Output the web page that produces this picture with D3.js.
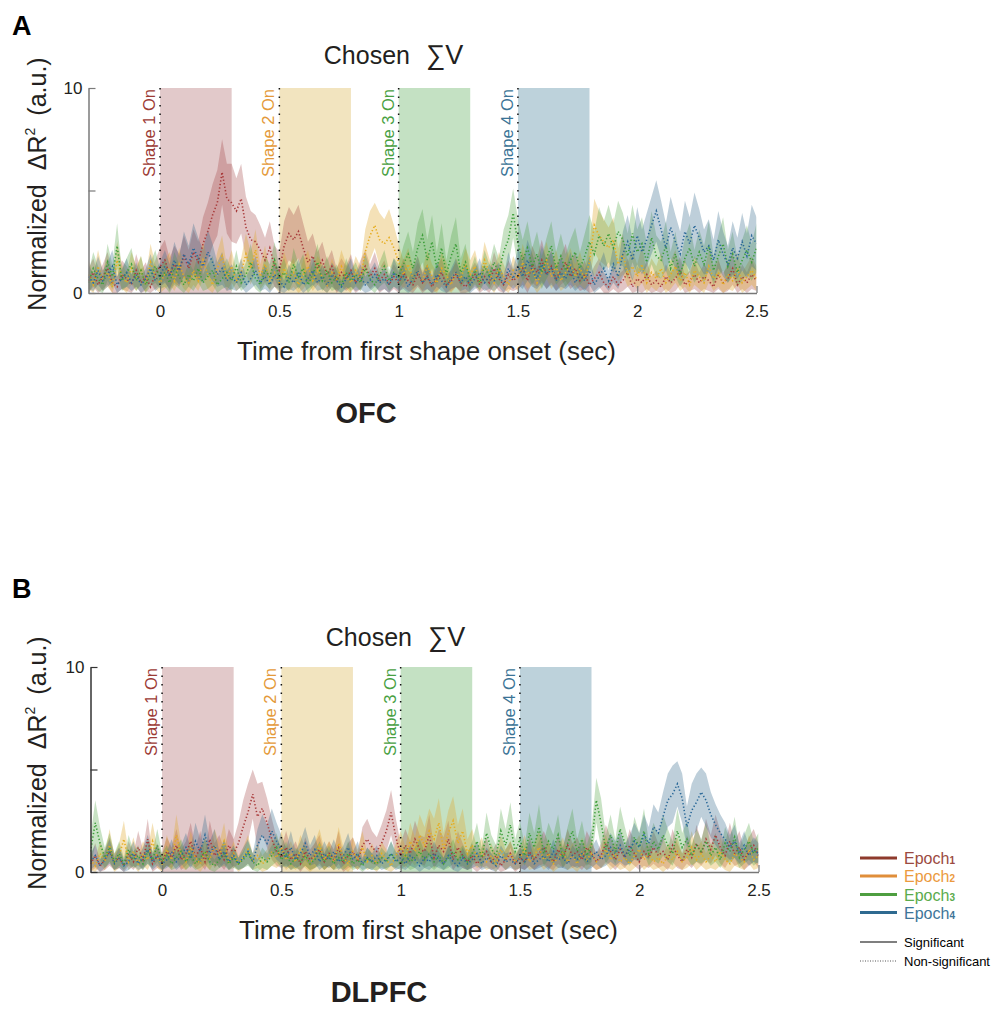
<!DOCTYPE html>
<html>
  <head>
    <title>Chosen Sum V - OFC / DLPFC</title>
    <script src="https://d3js.org/d3.v7.min.js"></script>
    <style>
      body { margin: 0; background: #fff; }
      text { font-family: "Liberation Sans", Arial, Helvetica, sans-serif; }
    </style>
  </head>
  <body>
    <div id="chart"></div>
    <script>
      // sampling grid of the traces (sec)
      const tStart = -0.3;
      const tStep = 0.02;

      const xTicks = [0, 0.5, 1, 1.5, 2, 2.5];
      const xTickLabels = ["0", "0.5", "1", "1.5", "2", "2.5"];
      const yTicks = [0, 5, 10];
      const yTickLabels = ["0", "", "10"];

      const shapeOnsets = [0, 0.5, 1, 1.5];
      const shapeDuration = 0.3;
      const shapeNames = ["Shape 1 On", "Shape 2 On", "Shape 3 On", "Shape 4 On"];
      const epochNames = ["Epoch", "Epoch", "Epoch", "Epoch"];
      const epochSubs = ["1", "2", "3", "4"];

      // ---- OFC (panel A): mean and sem per epoch ----
      const ofcMean1 = [
        0.6,1.0,0.4,0.8,1.2,0.5,0.3,0.9,0.7,0.4,
        1.1,0.5,0.8,0.3,0.9,1.3,1.6,0.9,1.4,1.1,
        1.8,1.2,2.0,1.5,2.4,3.0,3.8,4.4,5.9,4.6,
        4.4,4.0,4.6,3.2,2.6,2.5,2.1,1.6,2.2,1.3,
        1.1,2.3,2.9,2.6,3.0,2.2,1.5,1.8,1.2,1.6,
        0.9,1.3,0.6,1.0,0.7,1.1,0.5,0.9,1.3,0.8,
        1.2,0.6,0.9,0.4,0.8,0.5,1.0,0.6,0.4,0.9,
        0.5,0.8,0.3,0.7,1.0,0.4,0.6,0.9,0.5,0.3,
        0.6,0.9,0.4,0.8,0.5,1.2,0.7,0.4,0.9,0.6,
        0.8,1.2,0.6,1.4,1.0,1.6,0.9,1.3,0.7,1.1,
        1.5,0.8,1.2,0.6,0.9,0.4,0.7,1.0,0.5,0.3,
        0.8,0.4,0.6,1.0,0.3,0.7,0.5,0.9,0.4,0.6,
        0.3,0.8,0.5,0.7,1.1,0.4,0.6,0.9,0.5,0.8,
        0.6,0.3,0.9,0.5,0.7,1.2,0.4,0.8,0.5,0.9,
        0.6];
      const ofcSem1 = [
        0.6,0.7,0.5,0.6,0.8,0.5,0.5,0.7,0.6,0.5,
        0.8,0.6,0.7,0.5,0.7,0.9,1.0,0.8,0.9,0.8,
        1.0,0.9,1.1,1.0,1.3,1.4,1.5,1.6,1.6,1.7,
        1.9,1.6,1.7,1.5,1.4,1.3,1.2,1.1,1.3,1.0,
        0.9,1.2,1.3,1.2,1.3,1.2,1.0,1.1,0.8,0.9,
        0.7,0.8,0.6,0.7,0.6,0.8,0.5,0.7,0.8,0.6,
        0.8,0.6,0.7,0.5,0.6,0.5,0.7,0.5,0.5,0.6,
        0.5,0.6,0.4,0.6,0.7,0.5,0.5,0.6,0.5,0.4,
        0.5,0.6,0.5,0.6,0.5,0.8,0.6,0.5,0.7,0.5,
        0.6,0.8,0.6,0.9,0.7,1.0,0.7,0.8,0.6,0.7,
        0.9,0.6,0.8,0.5,0.7,0.4,0.6,0.7,0.5,0.4,
        0.6,0.5,0.5,0.7,0.4,0.6,0.5,0.7,0.4,0.5,
        0.4,0.6,0.5,0.6,0.7,0.4,0.5,0.7,0.5,0.6,
        0.5,0.4,0.7,0.5,0.6,0.8,0.4,0.6,0.5,0.7,
        0.5];
      const ofcMean2 = [
        0.9,0.4,1.3,0.6,1.0,0.3,1.6,0.8,0.5,1.2,
        0.7,1.1,0.4,1.5,0.8,0.5,0.9,1.2,0.6,1.4,
        0.8,0.5,1.1,0.6,1.6,0.9,0.4,1.2,1.8,0.7,
        1.3,0.6,1.0,1.9,1.2,2.1,0.8,1.4,0.6,1.0,
        0.5,1.2,0.7,1.0,0.4,0.9,1.3,0.6,1.1,0.8,
        0.4,1.0,0.6,1.3,0.8,0.5,1.1,0.7,2.0,2.8,
        3.3,2.6,2.4,2.7,2.2,1.5,0.9,1.4,0.7,1.1,
        0.6,1.3,0.8,0.5,1.2,0.9,0.4,1.0,0.7,1.4,
        0.9,1.3,0.6,1.6,1.0,0.5,1.2,0.8,0.4,1.1,
        0.7,1.5,0.9,1.2,0.5,1.0,1.6,0.8,1.3,0.6,
        1.0,1.4,0.8,1.2,0.7,1.5,3.3,2.8,2.5,2.2,
        2.6,1.4,1.9,0.9,1.3,0.8,1.4,0.5,1.0,0.7,
        1.2,0.5,0.9,1.3,0.6,1.0,0.4,1.1,0.8,0.5,
        1.3,0.7,1.0,0.4,0.9,0.6,1.2,0.5,0.8,1.1,
        0.7];
      const ofcSem2 = [
        0.7,0.5,0.8,0.5,0.7,0.4,0.9,0.6,0.5,0.8,
        0.6,0.7,0.4,0.9,0.6,0.5,0.7,0.8,0.5,0.8,
        0.6,0.5,0.7,0.5,0.9,0.7,0.4,0.8,1.0,0.6,
        0.8,0.5,0.7,1.0,0.8,1.0,0.6,0.9,0.5,0.7,
        0.5,0.8,0.6,0.7,0.4,0.7,0.8,0.5,0.7,0.6,
        0.4,0.7,0.5,0.8,0.6,0.5,0.7,0.6,1.1,1.2,
        1.1,1.3,1.2,1.4,1.1,0.9,0.7,0.8,0.6,0.7,
        0.5,0.8,0.6,0.5,0.8,0.6,0.4,0.7,0.6,0.8,
        0.7,0.8,0.5,0.9,0.7,0.5,0.8,0.6,0.4,0.7,
        0.6,0.9,0.7,0.8,0.5,0.7,0.9,0.6,0.8,0.5,
        0.7,0.8,0.6,0.8,0.5,0.9,1.3,1.2,1.1,1.0,
        1.1,0.8,1.0,0.6,0.8,0.6,0.9,0.5,0.7,0.6,
        0.8,0.5,0.7,0.8,0.5,0.7,0.4,0.7,0.6,0.5,
        0.8,0.6,0.7,0.4,0.7,0.5,0.8,0.5,0.6,0.7,
        0.6];
      const ofcMean3 = [
        0.5,1.2,0.7,0.4,1.5,0.8,2.3,0.6,1.0,1.4,
        0.6,1.1,0.4,0.9,1.3,0.7,1.0,0.5,1.2,0.8,
        0.4,0.9,0.6,1.2,0.5,0.8,1.1,0.4,0.7,1.0,
        0.6,1.3,0.5,0.9,1.5,0.7,0.4,1.1,0.8,1.6,
        0.7,1.0,0.5,1.4,0.8,1.2,0.4,0.9,1.5,0.6,
        1.1,0.5,0.8,0.4,1.0,0.6,0.9,0.5,1.2,0.7,
        0.4,0.9,1.3,0.6,1.0,0.8,1.4,1.9,1.2,2.2,
        2.8,1.6,2.5,1.2,2.2,0.9,1.8,2.4,1.0,1.5,
        0.6,1.1,0.5,1.3,0.8,1.5,1.0,2.0,2.6,3.9,
        2.4,1.6,2.2,1.3,1.9,1.0,1.7,2.3,1.2,1.8,
        1.1,1.6,2.0,1.2,1.8,2.5,1.9,2.8,2.3,2.9,
        2.2,3.0,2.6,1.8,2.9,2.0,2.4,1.5,2.7,1.8,
        1.6,2.3,1.2,1.9,0.9,1.7,2.2,1.3,2.0,1.4,
        2.3,1.1,1.8,2.4,1.3,1.9,1.0,1.6,2.1,1.5,
        2.2];
      const ofcSem3 = [
        0.5,0.8,0.6,0.4,0.9,0.6,1.1,0.5,0.7,0.8,
        0.5,0.7,0.4,0.6,0.8,0.5,0.7,0.5,0.8,0.6,
        0.4,0.6,0.5,0.7,0.4,0.6,0.7,0.4,0.5,0.7,
        0.5,0.8,0.4,0.6,0.9,0.5,0.4,0.7,0.6,0.9,
        0.5,0.7,0.4,0.8,0.6,0.7,0.4,0.6,0.9,0.5,
        0.7,0.4,0.6,0.4,0.7,0.5,0.6,0.4,0.7,0.5,
        0.4,0.6,0.8,0.5,0.7,0.6,0.9,1.1,0.8,1.2,
        1.3,1.0,1.3,0.8,1.2,0.7,1.0,1.3,0.7,0.9,
        0.5,0.7,0.4,0.8,0.6,0.9,0.7,1.1,1.2,1.2,
        1.2,1.0,1.3,0.9,1.1,0.8,1.0,1.2,0.8,1.1,
        0.8,1.0,1.2,0.8,1.1,1.3,1.1,1.4,1.2,1.4,
        1.2,1.5,1.3,1.1,1.4,1.1,1.3,0.9,1.3,1.0,
        0.9,1.2,0.8,1.1,0.6,1.0,1.2,0.8,1.1,0.9,
        1.2,0.7,1.0,1.3,0.8,1.1,0.7,1.0,1.2,0.9,
        1.2];
      const ofcMean4 = [
        0.8,0.5,1.1,0.6,0.9,1.3,0.4,0.7,1.0,0.5,
        0.9,0.4,0.7,1.2,0.6,0.9,1.3,0.8,1.6,1.1,
        1.9,1.4,2.2,1.7,1.3,2.0,1.5,0.9,1.2,0.6,
        0.8,0.5,1.0,0.4,0.7,1.1,0.5,0.8,0.4,0.9,
        0.6,0.3,0.8,0.5,1.0,0.4,0.7,1.1,0.5,0.8,
        0.4,0.9,0.6,0.3,0.7,1.0,0.5,0.8,0.4,0.6,
        0.9,0.5,0.7,0.4,1.0,0.6,0.8,0.3,0.7,1.1,
        0.5,0.8,0.4,0.9,0.6,0.3,0.7,1.0,0.5,0.8,
        0.4,0.7,1.0,0.5,0.8,0.6,0.9,0.4,1.2,0.7,
        1.3,0.8,1.6,1.1,0.7,1.4,0.9,1.2,0.6,1.0,
        0.7,1.2,0.5,0.9,0.6,1.1,0.4,0.8,1.2,0.6,
        1.4,0.8,1.9,2.5,1.6,2.8,2.0,2.6,3.3,4.0,
        3.1,2.2,3.2,2.5,1.9,3.0,2.4,3.3,2.7,2.0,
        2.3,1.6,2.6,1.9,1.4,2.2,1.7,2.5,1.8,2.8,
        2.4];
      const ofcSem4 = [
        0.6,0.4,0.7,0.5,0.6,0.8,0.4,0.5,0.7,0.4,
        0.6,0.4,0.5,0.7,0.5,0.6,0.8,0.6,0.9,0.7,
        1.1,0.9,1.2,1.0,0.8,1.1,0.9,0.6,0.8,0.5,
        0.6,0.4,0.7,0.4,0.5,0.7,0.4,0.6,0.4,0.6,
        0.5,0.3,0.6,0.4,0.7,0.4,0.5,0.7,0.4,0.6,
        0.4,0.6,0.5,0.3,0.5,0.7,0.4,0.6,0.4,0.5,
        0.6,0.4,0.5,0.4,0.7,0.5,0.6,0.3,0.5,0.7,
        0.4,0.6,0.4,0.6,0.5,0.3,0.5,0.7,0.4,0.6,
        0.4,0.5,0.7,0.4,0.6,0.5,0.6,0.4,0.8,0.5,
        0.9,0.6,1.0,0.8,0.5,0.9,0.7,0.8,0.5,0.7,
        0.5,0.8,0.4,0.6,0.5,0.7,0.4,0.6,0.8,0.5,
        0.9,0.6,1.1,1.3,1.0,1.4,1.1,1.3,1.4,1.5,
        1.4,1.2,1.5,1.3,1.1,1.5,1.3,1.6,1.4,1.1,
        1.3,1.0,1.4,1.1,0.9,1.3,1.0,1.4,1.1,1.5,
        1.3];

      // ---- DLPFC (panel B) ----
      const dlpfcMean1 = [
        0.4,0.8,0.3,0.6,1.0,0.5,0.7,0.3,0.9,0.5,
        1.2,0.6,1.6,0.4,0.8,0.5,1.0,0.7,1.3,0.6,
        0.9,1.5,0.7,1.2,0.5,1.6,0.8,1.1,0.6,1.3,
        0.9,1.4,2.2,2.9,3.8,2.7,3.1,2.4,1.6,1.0,
        0.7,1.2,0.6,0.9,0.4,1.0,0.6,0.8,1.1,0.5,
        0.9,0.6,1.2,0.4,0.8,1.0,0.5,1.3,1.6,1.2,
        1.0,1.4,2.0,2.9,1.7,0.8,1.3,0.9,1.6,1.1,
        1.0,1.8,0.7,1.3,1.0,1.6,0.6,1.2,0.8,0.5,
        0.8,0.4,0.7,1.0,0.5,0.8,0.3,0.6,0.9,0.4,
        0.7,0.5,1.0,0.6,0.9,1.2,0.8,0.5,1.1,0.7,
        1.3,0.8,1.0,0.6,1.2,0.9,0.5,0.8,1.4,1.0,
        0.6,1.1,0.7,1.3,0.9,0.5,1.0,0.7,1.2,0.8,
        1.0,0.6,1.3,0.8,0.5,1.1,0.7,1.4,0.9,1.6,
        1.1,1.8,1.2,0.8,1.5,0.9,1.2,0.6,1.0,1.3,
        0.8];
      const dlpfcSem1 = [
        0.4,0.6,0.3,0.5,0.7,0.4,0.5,0.3,0.6,0.4,
        0.8,0.5,1.0,0.4,0.6,0.4,0.7,0.5,0.8,0.5,
        0.6,0.9,0.5,0.8,0.4,0.9,0.6,0.7,0.5,0.8,
        0.7,1.0,1.3,1.4,1.2,1.6,1.3,1.2,1.0,0.7,
        0.5,0.8,0.5,0.6,0.4,0.7,0.5,0.6,0.7,0.4,
        0.6,0.5,0.8,0.4,0.6,0.7,0.4,0.9,1.0,0.8,
        0.7,0.9,1.0,1.1,0.9,0.6,0.8,0.6,0.9,0.7,
        0.7,1.0,0.5,0.8,0.7,0.9,0.5,0.8,0.6,0.4,
        0.6,0.4,0.5,0.7,0.4,0.6,0.3,0.5,0.6,0.4,
        0.5,0.4,0.7,0.5,0.6,0.8,0.6,0.4,0.7,0.5,
        0.8,0.6,0.7,0.5,0.8,0.6,0.4,0.6,0.9,0.7,
        0.5,0.7,0.5,0.8,0.6,0.4,0.7,0.5,0.8,0.6,
        0.7,0.5,0.8,0.6,0.4,0.7,0.5,0.9,0.6,1.0,
        0.7,1.0,0.8,0.6,0.9,0.6,0.8,0.5,0.7,0.8,
        0.6];
      const dlpfcMean2 = [
        0.6,0.3,0.9,0.5,1.3,0.4,0.8,1.6,0.5,1.0,
        0.4,0.9,0.6,1.5,0.7,0.4,1.1,0.6,1.8,0.8,
        0.5,1.2,0.7,0.4,1.0,0.6,1.3,0.8,1.5,0.5,
        0.9,0.4,0.7,1.1,0.5,0.8,0.4,0.6,1.0,0.7,
        1.2,0.6,0.9,0.5,1.1,0.7,0.4,0.8,1.3,0.6,
        0.9,0.5,1.4,0.7,0.4,1.0,0.6,1.2,0.5,0.8,
        0.4,0.9,0.6,0.3,0.8,1.2,0.7,1.5,1.0,1.8,
        1.3,2.0,1.6,2.4,1.1,1.9,2.5,1.4,2.0,0.9,
        1.3,0.7,1.0,0.5,0.8,0.4,1.1,0.6,0.9,0.5,
        0.7,1.1,0.5,0.8,1.2,0.6,0.9,0.4,0.7,1.0,
        0.5,0.8,0.4,1.0,0.6,0.9,0.5,0.7,1.1,0.6,
        0.9,0.5,0.7,0.4,0.8,1.1,0.6,0.9,0.5,0.7,
        0.4,0.8,0.6,1.0,0.5,0.7,1.2,0.6,0.9,0.5,
        0.8,0.5,1.0,0.6,0.4,0.9,0.7,0.5,1.1,0.6,
        0.8];
      const dlpfcSem2 = [
        0.5,0.3,0.6,0.4,0.8,0.4,0.6,0.9,0.4,0.7,
        0.4,0.6,0.5,0.9,0.5,0.4,0.7,0.5,1.0,0.6,
        0.4,0.8,0.5,0.4,0.7,0.5,0.8,0.6,0.9,0.4,
        0.6,0.4,0.5,0.7,0.4,0.6,0.4,0.5,0.7,0.5,
        0.8,0.5,0.6,0.4,0.7,0.5,0.4,0.6,0.8,0.5,
        0.6,0.4,0.8,0.5,0.4,0.7,0.5,0.8,0.4,0.6,
        0.4,0.6,0.5,0.3,0.6,0.8,0.5,0.9,0.7,1.0,
        0.9,1.1,1.0,1.2,0.8,1.1,1.2,0.9,1.1,0.7,
        0.8,0.5,0.7,0.4,0.6,0.4,0.7,0.5,0.6,0.4,
        0.5,0.7,0.4,0.6,0.8,0.5,0.6,0.4,0.5,0.7,
        0.4,0.6,0.4,0.7,0.5,0.6,0.4,0.5,0.7,0.5,
        0.6,0.4,0.5,0.4,0.6,0.7,0.5,0.6,0.4,0.5,
        0.4,0.6,0.5,0.7,0.4,0.5,0.8,0.5,0.6,0.4,
        0.6,0.4,0.7,0.5,0.4,0.6,0.5,0.4,0.7,0.5,
        0.6];
      const dlpfcMean3 = [
        1.0,2.4,1.4,0.7,1.2,0.5,0.9,0.4,1.1,0.6,
        0.8,0.4,1.0,0.6,1.3,0.5,0.8,0.4,0.7,1.0,
        0.5,0.8,0.4,0.7,1.0,0.5,0.3,0.6,0.9,0.4,
        0.7,0.4,0.6,0.9,0.5,0.3,0.7,0.5,0.8,1.2,
        0.6,0.9,0.4,0.7,0.5,0.8,0.4,0.6,0.9,0.5,
        0.8,0.4,0.7,0.5,0.9,0.4,0.6,0.3,0.7,0.5,
        0.4,0.7,0.5,0.9,0.6,0.4,0.8,0.5,0.7,1.0,
        0.6,0.9,0.5,0.8,0.4,0.7,1.0,0.6,0.8,0.5,
        0.9,1.5,0.7,1.9,1.1,0.8,2.0,1.3,2.3,1.0,
        1.6,0.8,1.9,1.2,2.2,0.9,1.5,1.1,1.8,0.7,
        1.4,2.0,1.0,1.6,0.8,1.3,3.5,2.4,1.1,1.8,
        1.0,2.1,1.4,0.8,1.7,1.2,2.0,0.9,1.5,1.1,
        1.8,1.3,0.9,2.0,1.2,1.6,0.8,1.3,1.0,1.5,
        0.8,1.2,0.6,1.4,1.0,1.7,0.7,1.1,1.5,0.9,
        1.2];
      const dlpfcSem3 = [
        0.7,1.1,0.8,0.5,0.7,0.4,0.6,0.3,0.7,0.4,
        0.5,0.3,0.6,0.4,0.8,0.4,0.5,0.3,0.5,0.6,
        0.4,0.5,0.3,0.5,0.6,0.4,0.3,0.4,0.6,0.3,
        0.5,0.3,0.4,0.6,0.4,0.3,0.5,0.4,0.5,0.7,
        0.4,0.6,0.3,0.5,0.4,0.5,0.3,0.4,0.6,0.4,
        0.5,0.3,0.5,0.4,0.6,0.3,0.4,0.3,0.5,0.4,
        0.3,0.5,0.4,0.6,0.4,0.3,0.5,0.4,0.5,0.6,
        0.4,0.6,0.4,0.5,0.3,0.5,0.6,0.4,0.5,0.4,
        0.6,0.9,0.5,1.0,0.7,0.5,1.1,0.8,1.1,0.6,
        0.9,0.5,1.0,0.7,1.1,0.6,0.9,0.7,1.0,0.5,
        0.8,1.1,0.6,0.9,0.5,0.8,1.1,1.2,0.7,1.0,
        0.6,1.1,0.8,0.5,1.0,0.7,1.1,0.6,0.9,0.7,
        1.0,0.8,0.6,1.1,0.7,0.9,0.5,0.8,0.6,0.9,
        0.5,0.7,0.4,0.8,0.6,1.0,0.5,0.7,0.9,0.6,
        0.7];
      const dlpfcMean4 = [
        0.5,0.8,0.3,0.6,1.0,0.4,0.7,0.3,0.5,0.9,
        0.4,0.7,1.1,0.5,0.8,0.4,0.6,1.0,0.5,0.8,
        1.2,0.7,1.5,1.0,1.8,0.9,1.3,0.6,1.0,0.5,
        0.8,0.4,0.7,1.0,0.5,1.3,1.8,1.4,2.0,1.5,
        1.1,0.7,1.2,0.6,0.9,1.4,0.8,1.1,0.5,0.9,
        0.6,1.0,0.5,0.8,1.2,0.6,0.9,0.4,0.7,0.5,
        0.8,0.4,0.6,0.9,0.5,0.7,0.4,0.8,0.6,0.3,
        0.7,0.5,0.9,0.6,0.4,0.8,0.5,0.3,0.7,0.4,
        0.6,0.9,0.4,0.7,0.5,0.3,0.8,0.5,0.6,0.4,
        0.7,0.5,0.9,0.4,0.6,0.8,0.5,1.0,0.6,0.7,
        0.4,0.8,0.6,0.9,0.5,0.7,1.0,0.6,0.8,1.2,
        0.9,1.3,0.8,1.1,1.5,1.2,1.8,1.4,2.2,1.9,
        2.7,3.5,3.8,4.3,3.6,2.2,3.0,3.4,3.9,3.5,
        2.8,2.3,1.9,1.6,1.2,1.5,0.9,1.3,0.8,1.1,
        0.9];
      const dlpfcSem4 = [
        0.4,0.5,0.3,0.4,0.6,0.3,0.5,0.3,0.4,0.6,
        0.3,0.5,0.7,0.4,0.5,0.3,0.4,0.6,0.4,0.5,
        0.7,0.5,0.9,0.6,1.0,0.6,0.8,0.4,0.6,0.4,
        0.5,0.3,0.5,0.6,0.4,0.8,1.0,0.9,1.1,0.9,
        0.7,0.5,0.8,0.4,0.6,0.8,0.5,0.7,0.4,0.6,
        0.4,0.6,0.4,0.5,0.7,0.4,0.6,0.3,0.5,0.4,
        0.5,0.3,0.4,0.6,0.4,0.5,0.3,0.5,0.4,0.3,
        0.5,0.4,0.6,0.4,0.3,0.5,0.4,0.3,0.5,0.3,
        0.4,0.6,0.3,0.5,0.4,0.3,0.5,0.4,0.4,0.3,
        0.5,0.4,0.6,0.3,0.4,0.5,0.4,0.6,0.4,0.5,
        0.3,0.5,0.4,0.6,0.4,0.5,0.6,0.4,0.5,0.7,
        0.6,0.8,0.5,0.7,0.9,0.7,1.0,0.8,1.1,1.0,
        1.2,1.3,1.4,1.1,1.2,1.0,1.3,1.4,1.2,1.3,
        1.1,1.0,0.9,0.8,0.6,0.8,0.5,0.7,0.5,0.6,
        0.5];

      // colours
      const bandColors = ["#a04040", "#e0a830", "#4a9e3a", "#3a6e8e"];
      const bandOpacity = [0.3, 0.35, 0.3, 0.33];
      const lineColors = ["#a83a3a", "#e6ac1e", "#3d9e3a", "#2a6898"];
      const shapeFill = ["#e2c9ca", "#f2e4bf", "#c4e1c3", "#bdd2db"];
      const shapeText = ["#9c3b35", "#e49a3a", "#48a042", "#3b7496"];
      const legendLine = ["#8e3a2c", "#e08e3a", "#4e9e40", "#2e6a90"];
      const legendText = ["#9b4a40", "#eb9a3e", "#5aab4c", "#3d7599"];

      const panels = [
        { tag: "A", area: "OFC", means: [ofcMean1, ofcMean2, ofcMean3, ofcMean4],
          sems: [ofcSem1, ofcSem2, ofcSem3, ofcSem4],
          left: 88.5, top: 88, yAxisColor: "#7a7a7a", tagY: 35, titleY: 64, areaX: 366, areaY: 423 },
        { tag: "B", area: "DLPFC", means: [dlpfcMean1, dlpfcMean2, dlpfcMean3, dlpfcMean4],
          sems: [dlpfcSem1, dlpfcSem2, dlpfcSem3, dlpfcSem4],
          left: 90.5, top: 667, yAxisColor: "#333", tagY: 598, titleY: 646, areaX: 379, areaY: 1002 }
      ];

      const plotW = 668;
      const plotH = 205;

      const svg = d3.select('#chart')
        .append('svg')
        .attr('width', 1005)
        .attr('height', 1009);

      panels.forEach((p, pi) => {
        const x = d3.scaleLinear().domain([-0.3, 2.5]).range([0, plotW]);
        const y = d3.scaleLinear().domain([0, 10]).range([plotH, 0]);

        // panel letter
        svg.append('text')
          .attr('x', 12).attr('y', p.tagY)
          .attr('font-size', 27).attr('font-weight', 'bold')
          .text(p.tag);

        // title
        const title = svg.append('text')
          .attr('x', p.left + 305).attr('y', p.titleY)
          .attr('text-anchor', 'middle')
          .attr('font-size', 25)
          .attr('fill', '#231f20');
        title.append('tspan').text('Chosen');
        title.append('tspan').attr('dx', 16).attr('font-size', 27).text('\u2211V');

        const g = svg.append('g')
          .attr('transform', 'translate(' + p.left + ',' + p.top + ')');

        g.append('clipPath').attr('id', 'clip' + pi)
          .append('rect').attr('width', plotW).attr('height', plotH + 1);

        // shape presentation windows
        g.selectAll('.shape')
          .data(shapeOnsets)
          .enter()
          .append('rect')
          .attr('x', d => x(d))
          .attr('y', y(10))
          .attr('width', d => x(d + shapeDuration) - x(d))
          .attr('height', y(0) - y(10))
          .attr('fill', (d, i) => shapeFill[i]);

        // sem bands
        const plot = g.append('g').attr('clip-path', 'url(#clip' + pi + ')');
        p.means.forEach((m, k) => {
          const s = p.sems[k];
          const band = d3.area()
            .x((d, i) => x(tStart + i * tStep))
            .y0((d, i) => y(Math.max(0, d - s[i])))
            .y1((d, i) => y(d + s[i]));
          plot.append('path')
            .datum(m)
            .attr('d', band)
            .attr('fill', bandColors[k])
            .attr('fill-opacity', bandOpacity[k]);
        });

        // mean traces (non-significant => dotted)
        p.means.forEach((m, k) => {
          const line = d3.line()
            .x((d, i) => x(tStart + i * tStep))
            .y(d => y(d));
          plot.append('path')
            .datum(m)
            .attr('d', line)
            .attr('fill', 'none')
            .attr('stroke', lineColors[k])
            .attr('stroke-width', 1.6)
            .attr('stroke-dasharray', '1.3,2.2');
        });

        // onset markers
        g.selectAll('.onset')
          .data(shapeOnsets)
          .enter()
          .append('line')
          .attr('x1', d => x(d)).attr('x2', d => x(d))
          .attr('y1', y(10)).attr('y2', y(0))
          .attr('stroke', '#111')
          .attr('stroke-width', 1.5)
          .attr('stroke-dasharray', '1.5,7');

        g.selectAll('.onsetLabel')
          .data(shapeOnsets)
          .enter()
          .append('text')
          .attr('transform', d => 'translate(' + (x(d) - 5) + ',' + (y(10) + 1) + ') rotate(-90)')
          .attr('text-anchor', 'end')
          .attr('font-size', 16.5)
          .attr('fill', (d, i) => shapeText[i])
          .text((d, i) => shapeNames[i]);

        // axes
        const xAxis = g.append('g')
          .attr('transform', 'translate(0,' + plotH + ')')
          .call(d3.axisBottom(x).tickValues(xTicks)
            .tickFormat((d, i) => xTickLabels[i])
            .tickSize(-7).tickSizeOuter(0).tickPadding(12));
        xAxis.select('.domain').attr('stroke', '#777').attr('stroke-width', 1.5);
        xAxis.selectAll('.tick line').attr('stroke', '#777').attr('stroke-width', 1.2);
        xAxis.selectAll('text').attr('font-size', 17).attr('fill', '#231f20')
          .style('font-family', '"Liberation Sans", Arial, sans-serif');

        const yAxis = g.append('g')
          .call(d3.axisLeft(y).tickValues(yTicks)
            .tickFormat((d, i) => yTickLabels[i])
            .tickSize(-7).tickSizeOuter(0).tickPadding(6));
        yAxis.select('.domain').attr('stroke', p.yAxisColor).attr('stroke-width', 1.5);
        yAxis.selectAll('.tick line').attr('stroke', p.yAxisColor).attr('stroke-width', 1.2);
        yAxis.selectAll('text').attr('font-size', 17).attr('fill', '#231f20')
          .style('font-family', '"Liberation Sans", Arial, sans-serif');

        // axis labels
        svg.append('text')
          .attr('x', p.left + 338).attr('y', p.top + plotH + 67)
          .attr('text-anchor', 'middle')
          .attr('font-size', 26)
          .attr('fill', '#231f20')
          .text('Time from first shape onset (sec)');

        const yl = svg.append('text')
          .attr('transform', 'translate(' + 46 + ',' + (p.top + 96) + ') rotate(-90)')
          .attr('text-anchor', 'middle')
          .attr('font-size', 25)
          .attr('fill', '#231f20');
        yl.append('tspan').text('Normalized');
        yl.append('tspan').attr('dx', 14).text('\u0394R');
        yl.append('tspan').attr('dy', -11).attr('font-size', 14).text('2');
        yl.append('tspan').attr('dy', 11).attr('dx', 12).text('(a.u.)');

        // brain area
        svg.append('text')
          .attr('x', p.areaX).attr('y', p.areaY)
          .attr('text-anchor', 'middle')
          .attr('font-size', 29).attr('font-weight', 'bold')
          .attr('fill', '#231f20')
          .text(p.area);
      });

      // legend
      const legend = svg.append('g');
      const legendY = [858, 876, 894.5, 912.5];
      legendY.forEach((ly, i) => {
        legend.append('line')
          .attr('x1', 860).attr('x2', 897).attr('y1', ly).attr('y2', ly)
          .attr('stroke', legendLine[i]).attr('stroke-width', 3);
        const t = legend.append('text')
          .attr('x', 904).attr('y', ly + 6)
          .attr('font-size', 16)
          .attr('fill', legendText[i]);
        t.append('tspan').text(epochNames[i]);
        t.append('tspan').attr('font-size', 10).attr('font-weight', 'bold').text(epochSubs[i]);
      });

      legend.append('line')
        .attr('x1', 860).attr('x2', 897).attr('y1', 942).attr('y2', 942)
        .attr('stroke', '#555').attr('stroke-width', 1.5);
      legend.append('text')
        .attr('x', 904).attr('y', 946.5)
        .attr('font-size', 13)
        .text('Significant');
      legend.append('line')
        .attr('x1', 860).attr('x2', 897).attr('y1', 961).attr('y2', 961)
        .attr('stroke', '#555').attr('stroke-width', 1)
        .attr('stroke-dasharray', '1,1.5');
      legend.append('text')
        .attr('x', 904).attr('y', 965.5)
        .attr('font-size', 13)
        .text('Non-significant');
    </script>
  </body>
</html>
